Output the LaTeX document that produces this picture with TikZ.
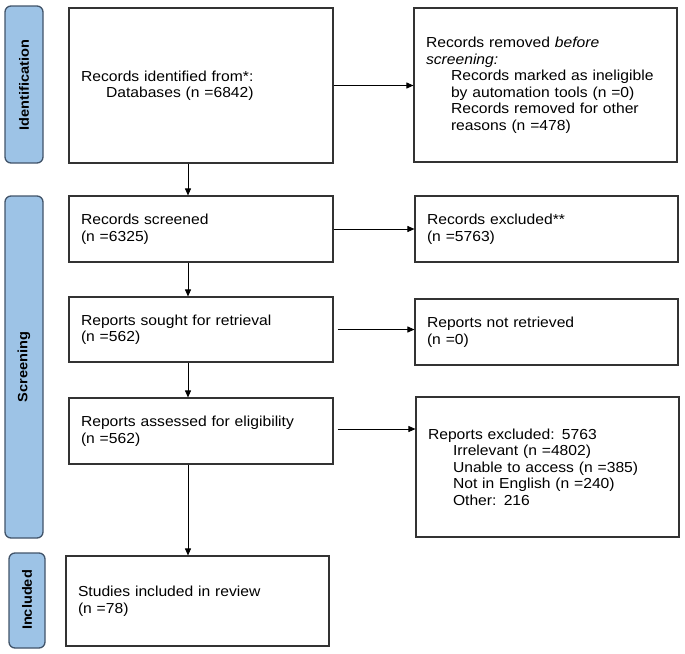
\documentclass[tikz,border=0pt]{standalone}
\usepackage{fontspec}
\setmainfont{Liberation Sans}[FakeStretch=1.08]
\usetikzlibrary{arrows.meta}
\definecolor{barfill}{HTML}{9DC3E6}
\definecolor{barline}{HTML}{41546A}
\begin{document}
\begin{tikzpicture}[x=1pt,y=-1pt,
  box/.style={draw=black!80,line width=1.1pt,align=left,inner sep=0pt,font=\fontsize{14.5}{16.5}\selectfont},
  bar/.style={draw=barline,line width=1.3pt,fill=barfill,rounded corners=6pt},
  lab/.style={rotate=90,font=\bfseries\fontsize{13.5}{15}\selectfont},
  arr/.style={-{Triangle[length=7pt,width=6pt]},line width=0.8pt}]
\useasboundingbox (0,0) rectangle (685,653);
\newcommand{\bx}[6]{% name, x1,y1,x2,y2, text
  \node[box,minimum width=#4-#2,minimum height=#5-#3,text width=#4-#2-24] (#1) at ({(#2+#4)/2},{(#3+#5)/2}) {#6};}
\draw[bar] (5,6) rectangle (43,163);
\node[lab] (l1) at (24,85) {Identification};
\draw[bar] (5,196) rectangle (43,538);
\node[lab] (l2) at (24,367) {Screening};
\draw[bar] (9,553) rectangle (45,648);
\node[lab] (l3) at (27,600) {Included};
\bx{b1}{69}{8}{333}{163}{Records identified from*:\\\hspace*{25pt}Databases (n =6842)}
\bx{r1}{414}{8}{677}{162}{Records removed \textit{before}\\\textit{screening:}\\\hspace*{25pt}Records marked as ineligible\\\hspace*{25pt}by automation tools (n =0)\\\hspace*{25pt}Records removed for other\\\hspace*{25pt}reasons (n =478)}
\bx{b2}{69}{196}{333}{262}{Records screened\\(n =6325)}
\bx{r2}{415}{196}{678}{262}{Records excluded**\\(n =5763)}
\bx{b3}{69}{297}{333}{362}{Reports sought for retrieval\\(n =562)}
\bx{r3}{415}{299}{678}{365}{Reports not retrieved\\(n =0)}
\bx{b4}{69}{398}{333}{464}{Reports assessed for eligibility\\(n =562)}
\bx{r4}{416}{397}{679}{537}{Reports excluded: 5763\\\hspace*{25pt}Irrelevant (n =4802)\\\hspace*{25pt}Unable to access (n =385)\\\hspace*{25pt}Not in English (n =240)\\\hspace*{25pt}Other: 216}
\bx{b5}{66}{556}{329}{646}{Studies included in review\\(n =78)}
\draw[arr] (b1.south -| 188,0) -- (b2.north -| 188,0);
\draw[arr] (b2.south -| 188,0) -- (b3.north -| 188,0);
\draw[arr] (b3.south -| 188,0) -- (b4.north -| 188,0);
\draw[arr] (b4.south -| 188,0) -- (b5.north -| 188,0);
\draw[arr] (b1.east) -- (b1.east -| r1.west);
\draw[arr] (b2.east) -- (b2.east -| r2.west);
\draw[arr] ([xshift=4pt]b3.east) -- (b3.east -| r3.west);
\draw[arr] ([xshift=4pt,yshift=2pt]b4.east) -- ([yshift=2pt]b4.east -| r4.west);
\end{tikzpicture}
\end{document}
